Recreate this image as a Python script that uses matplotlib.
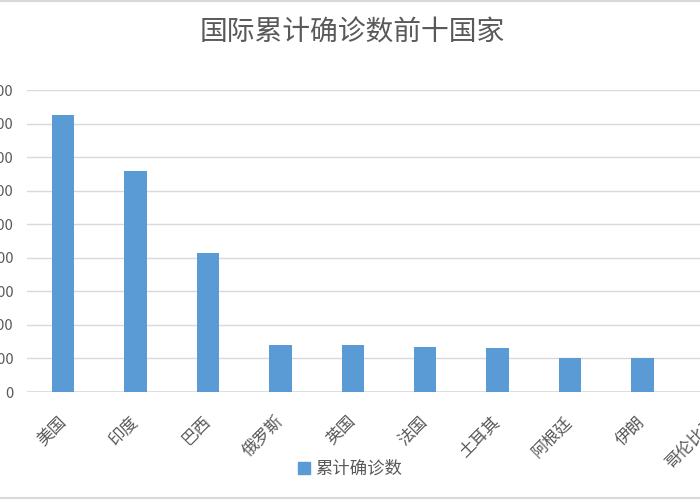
import matplotlib
matplotlib.use("Agg")
import matplotlib.pyplot as plt
from matplotlib.patches import Patch
from matplotlib.lines import Line2D
from matplotlib.ticker import MultipleLocator, FuncFormatter

plt.rcParams['font.family'] = ['Noto Sans CJK SC', 'DejaVu Sans']

# data (last category is cut off by the crop)
countries = ["美国", "印度", "巴西", "俄罗斯", "英国", "法国", "土耳其", "阿根廷", "伊朗", "哥伦比亚"]
cases = [16500000, 13200000, 8280000, 2790000, 2780000, 2700000, 2600000, 2040000, 2040000, 1960000]
y_step = 2000000
y_max = 18000000

grey_txt = "#595959"
grid_c = "#D9D9D9"
bar_c = "#5B9BD5"

fig = plt.figure(figsize=(7, 5), dpi=100)
# plot area runs past the right edge, like the cropped original
ax = fig.add_axes([27 / 700, 108 / 500, 724 / 700, 302 / 500])

x = list(range(len(countries)))
ax.bar(x, cases, width=0.31, color=bar_c, zorder=3)

ax.set_xlim(-0.5, len(countries) - 0.5)
ax.set_ylim(0, y_max)
ax.yaxis.set_major_locator(MultipleLocator(y_step))
ax.yaxis.set_major_formatter(FuncFormatter(lambda v, p: "%d" % v))
ax.grid(axis='y', color=grid_c, linewidth=1.0, zorder=0)
for s in ax.spines.values():
    s.set_visible(False)
ax.axhline(0, color=grid_c, linewidth=1.2, zorder=2)

ax.tick_params(axis='y', length=0, pad=9.5, labelsize=10.5, labelcolor=grey_txt)
ax.tick_params(axis='x', length=0, pad=19.5, labelsize=12, labelcolor=grey_txt)
ax.set_xticks(x)
ax.set_xticklabels(countries, rotation=45, ha='right', va='center', rotation_mode='anchor')

fig.text(352 / 700, 1 - 33 / 500, "国际累计确诊数前十国家", ha='center', va='center',
         fontsize=20, color=grey_txt)

fig.legend(handles=[Patch(color=bar_c, label="累计确诊数")], loc='center',
           bbox_to_anchor=(350 / 700, 1 - 469 / 500), frameon=False, fontsize=12.5,
           handlelength=0.7, handleheight=0.7, handletextpad=0.3, labelcolor=grey_txt)

# chart-area border (left/right sides are cropped away)
fig.add_artist(Line2D([0, 1], [1 - 1 / 500, 1 - 1 / 500], color=grid_c, linewidth=1.5))
fig.add_artist(Line2D([0, 1], [2 / 500, 2 / 500], color=grid_c, linewidth=1.5))

fig.savefig("out.png", dpi=100, facecolor="white")
